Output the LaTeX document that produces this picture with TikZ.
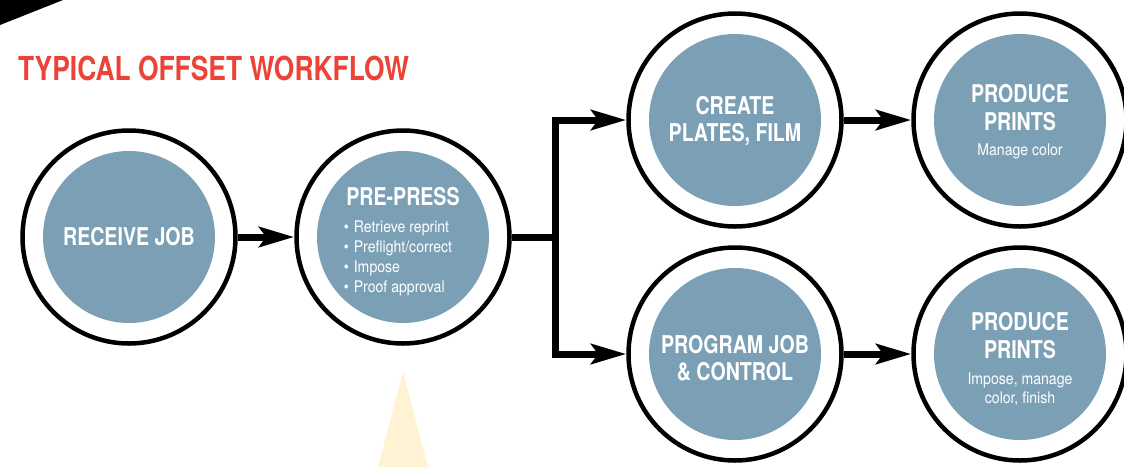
\documentclass[tikz,border=0pt]{standalone}
\usepackage{fontspec}
\setmainfont{TeX Gyre Heros}
\newfontfamily\condbold[FakeStretch=0.8]{TeX Gyre Heros}
\newfontfamily\condnote[FakeStretch=0.88]{TeX Gyre Heros}
\usetikzlibrary{arrows.meta}
\definecolor{steel}{HTML}{7BA0B5}
\definecolor{titlered}{HTML}{EC4338}
\definecolor{paleyellow}{HTML}{FFF3D4}
\newcommand{\headfont}{\condbold\bfseries\fontsize{24.5}{27.5}\selectfont}
\newcommand{\notefont}{\condnote\mdseries\fontsize{16}{20}\selectfont}
\begin{document}
\begin{tikzpicture}[x=1pt,y=-1pt]
	\tikzset{stage/.style = {circle, draw=black, line width=4.5pt, minimum size=213pt, inner sep=0pt,
		text=white, align=center, font=\headfont,
		path picture={\fill[steel] (path picture bounding box.center) circle (86pt);}}}
	\tikzset{flow/.style = {line width=7pt, -{Stealth[length=35pt,width=20pt,inset=7pt]}}}
	\useasboundingbox (0,0) rectangle (1124,467);
	% corner and pointer
	\fill[black] (0,0) -- (63,0) -- (0,25) -- cycle;
	\fill[paleyellow] (403,372) -- (428,467) -- (378,467) -- cycle;
	% title
	\node[anchor=base west, inner sep=0pt, text=titlered, font=\condbold\bfseries\fontsize{33}{36}\selectfont] (title) at (18,80) {TYPICAL OFFSET WORKFLOW};
	% stages
	\node[stage] (receive) at (129,237) {RECEIVE JOB};
	\node[stage, text height=56pt] (prepress) at (403,237) {PRE-PRESS\\[-1pt]
		{\notefont\begin{tabular}[t]{@{}l@{}}
			\textbullet\hspace{5pt}Retrieve reprint\\
			\textbullet\hspace{5pt}Preflight/correct\\
			\textbullet\hspace{5pt}Impose\\
			\textbullet\hspace{5pt}Proof approval
		\end{tabular}\kern10pt}};
	\node[stage, text height=47.6pt] (plates) at (735,120) {CREATE\\PLATES, FILM};
	\node[stage, text height=53.6pt] (program) at (735,354) {PROGRAM JOB\\\& CONTROL};
	\node[stage, text height=73.6pt] (printsA) at (1020,120) {PRODUCE\\PRINTS\\[-2.5pt]{\notefont Manage color}};
	\node[stage, text height=101.6pt] (printsB) at (1020,354) {PRODUCE\\PRINTS\\[-1.5pt]{\notefont Impose, manage}\\[-8pt]{\notefont color, finish}};
	% connectors
	\coordinate (fork) at (555,237);
	\draw[flow] (receive) to (prepress);
	\draw[line width=7pt] (prepress.east) -- (fork);
	\draw[flow] (fork) |- (plates.west);
	\draw[flow] (fork) |- (program.west);
	\draw[flow] (plates) to (printsA);
	\draw[flow] (program) to (printsB);
\end{tikzpicture}
\end{document}
